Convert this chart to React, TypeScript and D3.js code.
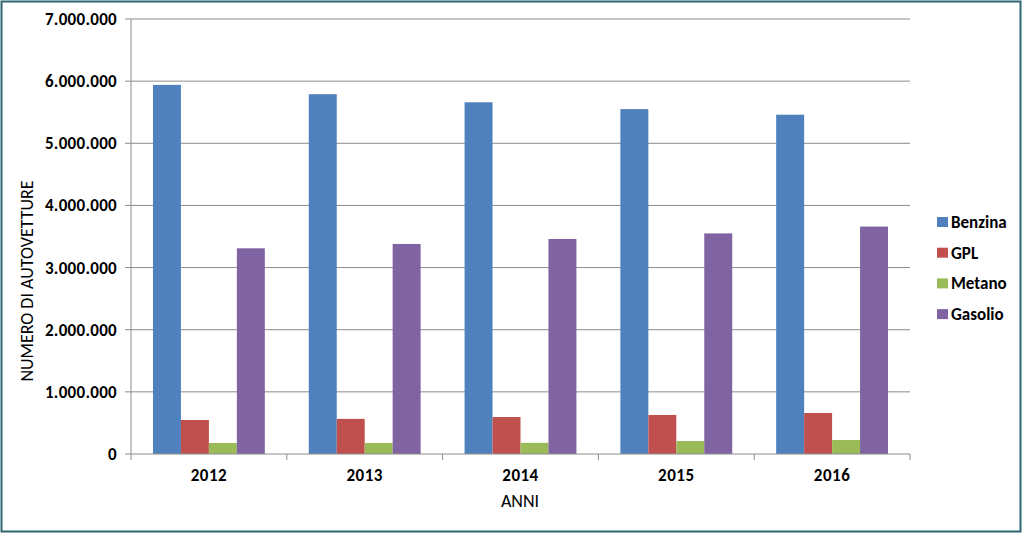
import React from "react";
import * as d3 from "d3";

const years = ["2012", "2013", "2014", "2015", "2016"];
const seriesNames = ["Benzina", "GPL", "Metano", "Gasolio"];
const benzina = [5940000, 5790000, 5660000, 5550000, 5460000];
const gpl = [547000, 565000, 595000, 628000, 660000];
const metano = [177000, 177000, 180000, 209000, 225000];
const gasolio = [3310000, 3380000, 3460000, 3550000, 3660000];
const yTicks = [0, 1000000, 2000000, 3000000, 4000000, 5000000, 6000000, 7000000];
const colors = ["#4F81BD", "#C0504D", "#9BBB59", "#8064A2"];

const W = 1023, H = 534;
const left = 131, right = 910, top = 19, bottom = 454;

export default function App() {
  const series = [benzina, gpl, metano, gasolio];
  const x = d3.scaleBand<string>().domain(years).range([left, right]).paddingInner(0).paddingOuter(0);
  const inner = d3.scaleBand<number>().domain([0, 1, 2, 3]).range([0, x.bandwidth()]).paddingOuter(0.786).paddingInner(0);
  const y = d3.scaleLinear().domain([0, 7000000]).range([bottom, top]);
  const fmt = (v: number) => v === 0 ? "0" : d3.format(",")(v).replace(/,/g, ".");
  const font = "Carlito, 'Open Sans', 'DejaVu Sans', sans-serif";
  const boundaries = years.map((yy) => x(yy)!).concat([right]);
  return (
    <svg width={W} height={H} style={{ position: "absolute", left: 0, top: 0, background: "#fff" }} fontFamily={font}>
      <rect x={1.5} y={1.5} width={1019} height={530} fill="#fff" stroke="#2E6470" strokeWidth={2} />
      {yTicks.map((t) => (
        <g key={t}>
          {t > 0 && <line x1={left} x2={right} y1={y(t)} y2={y(t)} stroke="#8c8c8c" strokeWidth={1} />}
          <line x1={left - 6} x2={left} y1={y(t)} y2={y(t)} stroke="#8c8c8c" />
          <text x={117} y={y(t)} dy="0.35em" textAnchor="end" fontSize={17} fontWeight="bold" fill="#000" letterSpacing={0.3}>{fmt(t)}</text>
        </g>
      ))}
      {years.map((yr, i) => (
        <g key={yr}>
          {series.map((s, k) => (
            <rect key={k} x={x(yr)! + inner(k)!} width={inner.bandwidth()} y={y(s[i])} height={bottom - y(s[i])} fill={colors[k]} />
          ))}
          <text x={x(yr)! + x.bandwidth() / 2} y={481} textAnchor="middle" fontSize={17} fontWeight="bold" fill="#000" letterSpacing={0.5}>{yr}</text>
        </g>
      ))}
      <line x1={left} x2={left} y1={top} y2={bottom} stroke="#8c8c8c" />
      <line x1={left} x2={right} y1={bottom} y2={bottom} stroke="#8c8c8c" />
      {boundaries.map((b, i) => (
        <line key={i} x1={b} x2={b} y1={bottom} y2={bottom + 6} stroke="#8c8c8c" />
      ))}
      <text x={520} y={507} textAnchor="middle" fontSize={18} fill="#000">ANNI</text>
      <text transform={`translate(33,281) rotate(-90)`} textAnchor="middle" fontSize={18} fill="#000">NUMERO DI AUTOVETTURE</text>
      {seriesNames.map((n, k) => (
        <g key={n} transform={`translate(937,${222 + k * 30.7})`}>
          <rect x={0} y={-5} width={11} height={10} fill={colors[k]} />
          <text x={14} y={0} dy="0.35em" fontSize={17} fontWeight="bold" fill="#000">{n}</text>
        </g>
      ))}
    </svg>
  );
}
